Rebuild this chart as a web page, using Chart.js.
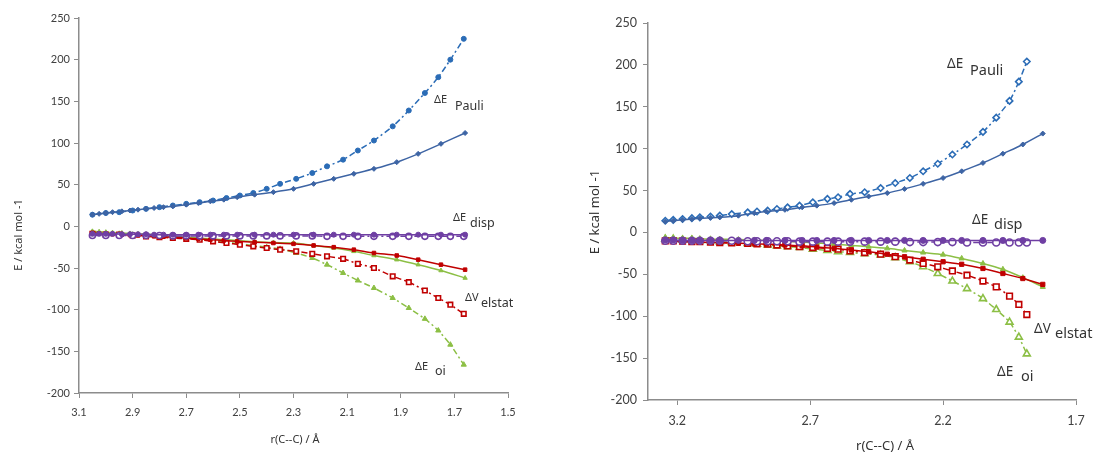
<!DOCTYPE html>
<html>
<head>
<meta charset="utf-8">
<script src="https://cdn.jsdelivr.net/npm/chart.js@4.4.1/dist/chart.umd.min.js"></script>
<style>
  body { margin: 0; background: #fff; }
  #wrap { position: relative; width: 1101px; height: 454px; }
  #leftBox { position: absolute; left: 0; top: 0; width: 550px; height: 454px; }
  #rightBox { position: absolute; left: 550px; top: 0; width: 551px; height: 454px; }
</style>
</head>
<body>
<div id="wrap">
  <div id="leftBox"><canvas id="chartLeft" width="550" height="454"></canvas></div>
  <div id="rightBox"><canvas id="chartRight" width="551" height="454"></canvas></div>
</div>
<script>
// ---- left panel data (r in Å, E in kcal/mol) ----
let rSolidL = [3.05,3.025,3.0,2.975,2.94,2.91,2.88,2.85,2.82,2.785,2.75,2.70,2.655,2.61,2.56,2.51,2.445,2.375,2.30,2.225,2.15,2.075,2.0,1.915,1.835,1.75,1.66];
let pauliSolidL = [14,15,16,17,18,19,20,21,22,23,24,26,28,30,32,35,38,41,45,51,57,63,69,77,87,99,112];
let dispSolidL = [-9,-9,-9,-9,-9.5,-9.5,-9.5,-9.5,-10,-10,-10,-10,-10,-10,-10,-10,-10,-10,-10,-10,-10,-10,-10,-10,-10,-10,-10];
let elstatSolidL = [-8,-8.5,-9,-9.5,-10,-10.5,-11,-11.5,-12,-12.5,-13,-14,-15,-16,-17,-18,-19,-20,-21,-23,-25,-28,-32,-35,-40,-46,-52];
let oiSolidL = [-6,-6.5,-7,-7.5,-8,-8.5,-9,-9.5,-10,-11,-12,-13,-14,-15,-16,-17,-18.5,-19.5,-20,-23,-26,-30,-35,-40,-46,-53,-62];

let rDashL = [3.05,3.0,2.95,2.9,2.85,2.8,2.75,2.7,2.65,2.6,2.55,2.5,2.45,2.40,2.35,2.29,2.23,2.175,2.115,2.06,2.0,1.93,1.87,1.81,1.76,1.715,1.665];
let pauliDashL = [14,16,17,19,21,23,25,27,29,31,34,37,40,45,51,57,64,72,80,91,103,120,139,160,179,200,225];
let dispDashL = [-11,-11,-11,-11,-11,-11,-11.5,-11.5,-11.5,-11.5,-11.5,-11.5,-11.5,-11.5,-11.5,-11.5,-11.5,-12,-12,-12,-12,-12,-12,-12,-12,-12,-12];
let elstatDashL = [-9,-10,-10,-11,-12,-13,-14,-15,-16,-18,-20,-22,-24,-26,-28,-30,-33,-36,-39,-45,-50,-60,-67,-77,-86,-94,-105];
let oiDashL = [-7,-8,-9,-10,-11,-12,-13,-14,-15,-17,-19,-21,-23,-25,-27,-32,-38,-46,-56,-65,-74,-86,-98,-111,-125,-142,-166];

// ---- right panel data ----
let rSolidR = [3.245,3.215,3.18,3.145,3.115,3.075,3.04,2.97,2.91,2.865,2.795,2.73,2.675,2.61,2.545,2.48,2.41,2.345,2.275,2.2,2.13,2.05,1.975,1.9,1.825];
let pauliSolidR = [13,14,15,16,17,17.5,18,20,23,25,27,30,32,35,39,43,47,52,58,65,73,83,94,105,118];
let dispSolidR = [-9,-9,-9.5,-9.5,-9.5,-9.5,-9.5,-9.5,-9.5,-9.5,-9.5,-9.5,-9.5,-9.5,-9.5,-9.5,-9.5,-9.5,-9.5,-9.5,-9.5,-9.5,-9.5,-9.5,-9.5];
let elstatSolidR = [-10,-10.5,-11,-11,-11.5,-12,-12,-13,-13.5,-14,-15,-16,-17.5,-19,-21,-23,-26,-29,-32,-35,-38,-43,-49,-55,-62];
let oiSolidR = [-6,-6.5,-7,-7,-7.5,-8,-8,-8.5,-9,-9.5,-10.5,-11.5,-12.5,-14,-15.5,-17,-19,-21.5,-24,-26.5,-31,-37,-44,-54,-65];

let rDashR = [3.245,3.215,3.18,3.145,3.115,3.075,3.04,2.995,2.935,2.9,2.86,2.825,2.785,2.74,2.69,2.635,2.595,2.55,2.495,2.435,2.38,2.325,2.275,2.22,2.165,2.11,2.05,2.0,1.95,1.915,1.885];
let pauliDashR = [14,15,16,17,18,19,20,22,24,25,26,28,30,32,36,40,42,46,48,53,59,65,73,82,93,105,120,137,157,180,204];
let dispDashR = [-10,-10,-10,-10,-10,-10,-10,-10,-10.5,-10.5,-10.5,-10.5,-10.5,-11,-11,-11,-11,-11,-11,-11,-11,-11.5,-11.5,-11.5,-11.5,-12,-12,-12,-12,-12,-12];
let elstatDashR = [-10,-10,-10.5,-11,-11,-11.5,-12,-12.5,-13,-13.5,-14,-15,-16,-17,-18,-19,-20,-22,-24,-26,-29,-33,-37,-41,-46,-51,-58,-65,-76,-86,-98];
let oiDashR = [-8,-8,-9,-9,-10,-10,-11,-12,-13,-14,-15,-16,-17,-18,-20,-21.5,-23,-24,-25.5,-27,-30,-35,-41,-49,-58,-67,-79,-92,-107,-125,-145];

// axis ticks
let yTicks = [-200,-150,-100,-50,0,50,100,150,200,250];
let xTicksL = [3.1,2.9,2.7,2.5,2.3,2.1,1.9,1.7,1.5];
let xTicksR = [3.2,2.7,2.2,1.7];

const blueDash = "#2b6cb6";
const blueSolid = "#3d64a4";
const purple = "#6f3fa3";
const red = "#c00000";
const green = "#8cbf45";
const dashPattern = [6, 3, 2, 3];

function pts(rs, vals) {
    return rs.map((r, i) => ({ x: r, y: vals[i] }));
}

function series(rs, vals, color, style, dashed, open, radius) {
    return {
        data: pts(rs, vals),
        borderColor: color,
        borderWidth: 1.5,
        borderDash: dashed ? dashPattern : [],
        pointStyle: style,
        pointRadius: radius,
        pointBorderWidth: open ? 1.6 : 1,
        pointBorderColor: color,
        pointBackgroundColor: open ? "#ffffff" : color,
        tension: 0.25,
        fill: false
    };
}

// text drawn on top: axis titles and curve labels
const textPlugin = {
    id: "panelText",
    afterDraw(chart) {
        let items = chart.options.plugins.panelText.items;
        let ctx = chart.ctx;
        ctx.save();
        ctx.fillStyle = "#333333";
        ctx.textBaseline = "middle";
        items.forEach(it => {
            ctx.save();
            ctx.translate(it.x, it.y);
            if (it.rot) ctx.rotate(it.rot);
            ctx.textAlign = it.align || "left";
            ctx.font = (it.weight || "normal") + " " + it.size + "px 'Noto Sans', sans-serif";
            ctx.fillText(it.t, 0, 0);
            ctx.restore();
        });
        ctx.restore();
    }
};

function makeChart(id, cfg) {
    const ctx = document.getElementById(id).getContext("2d");
    return new Chart(ctx, {
        type: "line",
        data: { datasets: cfg.datasets },
        options: {
            responsive: false,
            animation: false,
            layout: { padding: { top: cfg.top, right: cfg.right, left: 0, bottom: 0 } },
            plugins: {
                legend: { display: false },
                tooltip: { enabled: false },
                panelText: { items: cfg.texts }
            },
            scales: {
                x: {
                    type: "linear",
                    reverse: true,
                    min: cfg.xMin,
                    max: cfg.xMax,
                    afterFit: s => { s.height = cfg.xHeight; },
                    afterBuildTicks: s => { s.ticks = cfg.xTicks.map(v => ({ value: v })); },
                    ticks: {
                        color: "#404040",
                        font: { family: "Lato, 'Noto Sans', sans-serif", size: cfg.tickSize },
                        padding: 8,
                        maxRotation: 0,
                        autoSkip: false,
                        callback: v => v.toFixed(1)
                    },
                    grid: { drawOnChartArea: false, drawTicks: true, tickLength: 5, color: "#8c8c8c" },
                    border: { color: "#8c8c8c", width: 1.5 }
                },
                y: {
                    min: -200,
                    max: 250,
                    afterFit: s => { s.width = cfg.yWidth; },
                    afterBuildTicks: s => { s.ticks = yTicks.map(v => ({ value: v })); },
                    ticks: {
                        color: "#404040",
                        font: { family: "Lato, 'Noto Sans', sans-serif", size: cfg.tickSize },
                        padding: cfg.yPad
                    },
                    grid: { drawOnChartArea: false, drawTicks: true, tickLength: 5, color: "#8c8c8c" },
                    border: { color: "#8c8c8c", width: 1.5 }
                }
            }
        },
        plugins: [textPlugin]
    });
}

makeChart("chartLeft", {
    top: 18, right: 42, xHeight: 61, yWidth: 79, yPad: 4, tickSize: 11,
    xMin: 1.5, xMax: 3.1, xTicks: xTicksL,
    datasets: [
        series(rSolidL, pauliSolidL, blueSolid, "rectRot", false, false, 2.5),
        series(rDashL, pauliDashL, blueDash, "circle", true, false, 2.5),
        series(rSolidL, dispSolidL, purple, "circle", false, false, 2.5),
        series(rDashL, dispDashL, purple, "circle", true, true, 3),
        series(rSolidL, elstatSolidL, red, "rect", false, false, 2.5),
        series(rDashL, elstatDashL, red, "rect", true, true, 3.2),
        series(rSolidL, oiSolidL, green, "triangle", false, false, 2.5),
        series(rDashL, oiDashL, green, "triangle", true, false, 3)
    ],
    texts: [
        { t: "E / kcal mol -1", x: 19, y: 235, size: 11, rot: -Math.PI / 2, align: "center" },
        { t: "r(C--C) / Å", x: 295, y: 440, size: 11, align: "center" },
        { t: "ΔE", x: 434, y: 100, size: 11 }, { t: "Pauli", x: 455, y: 106, size: 12.5 },
        { t: "ΔE", x: 453, y: 218, size: 11 }, { t: "disp", x: 470, y: 223, size: 12.5 },
        { t: "ΔV", x: 465, y: 298, size: 11 }, { t: "elstat", x: 481, y: 303, size: 12.5 },
        { t: "ΔE", x: 415, y: 367, size: 11 }, { t: "oi", x: 435, y: 371, size: 12.5 }
    ]
});

makeChart("chartRight", {
    top: 23, right: 25, xHeight: 54, yWidth: 98, yPad: 6, tickSize: 12.5,
    xMin: 1.7, xMax: 3.31, xTicks: xTicksR,
    datasets: [
        series(rSolidR, pauliSolidR, blueSolid, "rectRot", false, false, 2.5),
        series(rDashR, pauliDashR, blueDash, "rectRot", true, true, 3.2),
        series(rSolidR, dispSolidR, purple, "circle", false, false, 3),
        series(rDashR, dispDashR, purple, "circle", true, true, 3.5),
        series(rSolidR, elstatSolidR, red, "rect", false, false, 3),
        series(rDashR, elstatDashR, red, "rect", true, true, 4),
        series(rSolidR, oiSolidR, green, "triangle", false, false, 3),
        series(rDashR, oiDashR, green, "triangle", true, true, 4)
    ],
    texts: [
        { t: "E / kcal mol -1", x: 45, y: 212, size: 13, rot: -Math.PI / 2, align: "center" },
        { t: "r(C--C) / Å", x: 335, y: 446, size: 13, align: "center" },
        { t: "ΔE", x: 397, y: 64, size: 13.5 }, { t: "Pauli", x: 420, y: 71, size: 14.5 },
        { t: "ΔE", x: 422, y: 220, size: 13.5 }, { t: "disp", x: 444, y: 225, size: 14.5 },
        { t: "ΔV", x: 484, y: 329, size: 13.5 }, { t: "elstat", x: 505, y: 334, size: 14.5 },
        { t: "ΔE", x: 447, y: 372, size: 13.5 }, { t: "oi", x: 471, y: 377, size: 14.5 }
    ]
});
</script>
</body>
</html>
